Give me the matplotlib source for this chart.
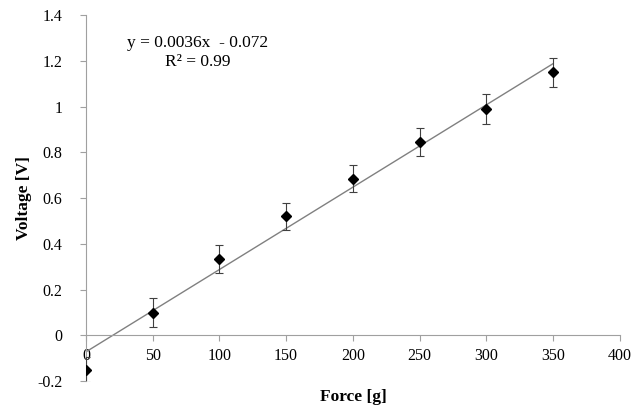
import numpy as np
import matplotlib.pyplot as plt

plt.rcParams['font.family'] = ['Liberation Serif', 'DejaVu Serif']

force = [0, 50, 100, 150, 200, 250, 300, 350]
voltage = [-0.15, 0.10, 0.335, 0.52, 0.685, 0.845, 0.99, 1.15]
err = [0.055, 0.065, 0.06, 0.06, 0.06, 0.06, 0.065, 0.062]
slope = 0.0036
intercept = -0.072
x_ticks = [0, 50, 100, 150, 200, 250, 300, 350, 400]
y_ticks = [-0.2, 0, 0.2, 0.4, 0.6, 0.8, 1, 1.2, 1.4]
y_labels = ['-0.2', '0', '0.2', '0.4', '0.6', '0.8', '1', '1.2', '1.4']

fig = plt.figure(figsize=(6.41, 4.09), dpi=100)
ax = fig.add_axes([0.134, 0.068, 0.833, 0.895])

# trend line over the data range
xf = np.array([force[0], force[-1]])
ax.plot(xf, slope * xf + intercept, color='#808080', lw=1.0, zorder=2)

ax.errorbar(force, voltage, yerr=err, fmt='D', color='black', ms=5.5,
            ecolor='#404040', elinewidth=0.8, capsize=3, capthick=0.8, zorder=3)

ax.set_xlim(0, 400)
ax.set_ylim(-0.2, 1.4)
ax.set_xticks(x_ticks)
ax.set_yticks(y_ticks)
ax.set_yticklabels(y_labels)

for s in ['top', 'right']:
    ax.spines[s].set_visible(False)
ax.spines['bottom'].set_position(('data', 0))
ax.spines['bottom'].set_color('#a0a0a0')
ax.spines['left'].set_color('#a0a0a0')
ax.tick_params(axis='both', colors='#a0a0a0', labelcolor='black',
               labelsize=11.5, length=4, width=0.8)
ax.tick_params(axis='x', pad=5)
ax.tick_params(axis='y', pad=13)

fig.text(353 / 641, 1 - 397 / 409, 'Force [g]', fontsize=12.5, fontweight='bold',
         ha='center', va='center')
ax.set_ylabel('Voltage [V]', fontsize=12.5, fontweight='bold')
ax.yaxis.set_label_coords(-0.1, 0.5)

ax.text(0.21, 0.8975, 'y = 0.0036x  - 0.072\nR² = 0.99', transform=ax.transAxes,
        ha='center', va='center', fontsize=12.5, linespacing=1.2)

fig.savefig('out.png', dpi=100)
